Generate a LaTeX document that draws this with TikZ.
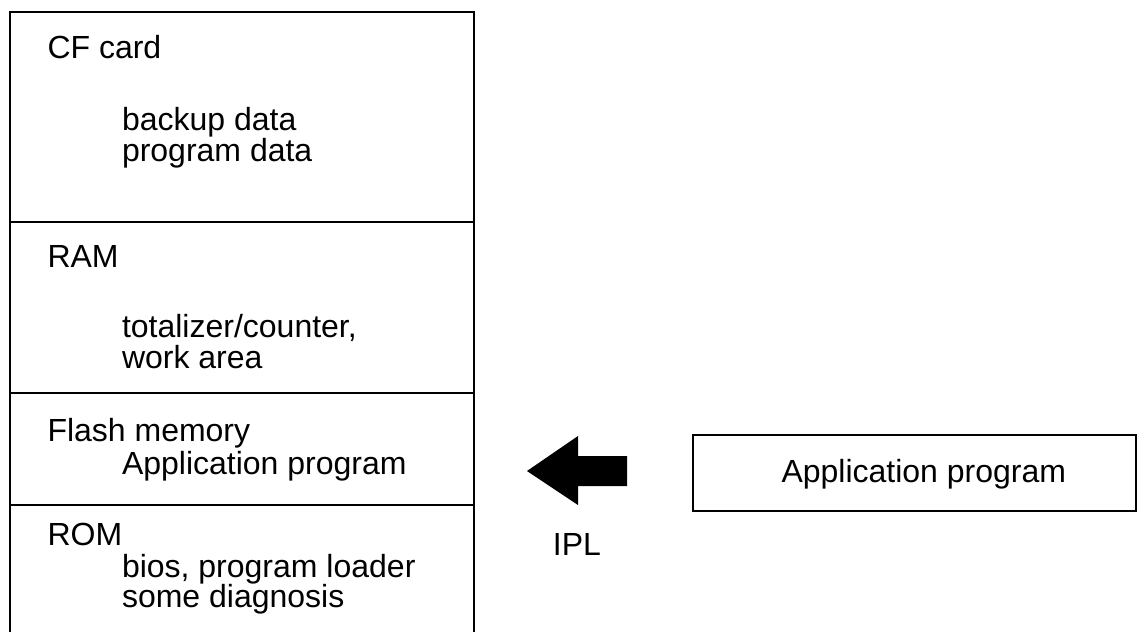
\documentclass[tikz,border=0pt]{standalone}
\usepackage{fontspec}
\setmainfont{Liberation Sans}
\begin{document}
\begin{tikzpicture}[x=1pt,y=-1pt,
  sect/.style={draw,line width=2pt,inner sep=0pt,outer sep=0pt,anchor=north west,minimum width=463.5pt},
  txt/.style={inner sep=0pt,outer sep=0pt,anchor=base west,font=\fontsize{32}{32}\selectfont},
  ctxt/.style={inner sep=0pt,outer sep=0pt,anchor=base,font=\fontsize{32}{32}\selectfont}]
\useasboundingbox (0,0) rectangle (1144,632);
\begin{scope}
\clip (0,0) rectangle (1144,632);
% left stacked memory box
\node[sect,minimum height=209.5pt] (cf) at (10,12) {};
\node[sect,minimum height=171.5pt] (ram) at (10,221.5) {};
\node[sect,minimum height=111.5pt] (flash) at (10,393) {};
\node[sect,minimum height=140pt] (rom) at (10,504.5) {};
\end{scope}
% texts
\node[txt] (cft) at (47.5,58) {CF card};
\node[txt] (cf1) at (122,130) {backup data};
\node[txt] (cf2) at (122,161) {program data};
\node[txt] (ramt) at (47.5,267) {RAM};
\node[txt] (ram1) at (122,337) {totalizer/counter,};
\node[txt] (ram2) at (122,368) {work area};
\node[txt] (flt) at (47.5,441) {Flash memory};
\node[txt] (fl1) at (122,474) {Application program};
\node[txt] (romt) at (47.5,545) {ROM};
\node[txt] (rom1) at (122,577) {bios, program loader};
\node[txt] (rom2) at (122,607) {some diagnosis};
% right box
\node[draw,line width=2pt,inner sep=0pt,outer sep=0pt,anchor=north west,minimum width=443pt,minimum height=76pt] (app) at (693,435) {};
\node[txt] (appt) at (781.5,482.5) {Application program};
% arrow
\fill (527,471) -- (578,436) -- (578,456) -- (627,456) -- (627,486) -- (578,486) -- (578,505) -- cycle;
\node[ctxt] (ipl) at (577,555) {IPL};
\end{tikzpicture}
\end{document}
